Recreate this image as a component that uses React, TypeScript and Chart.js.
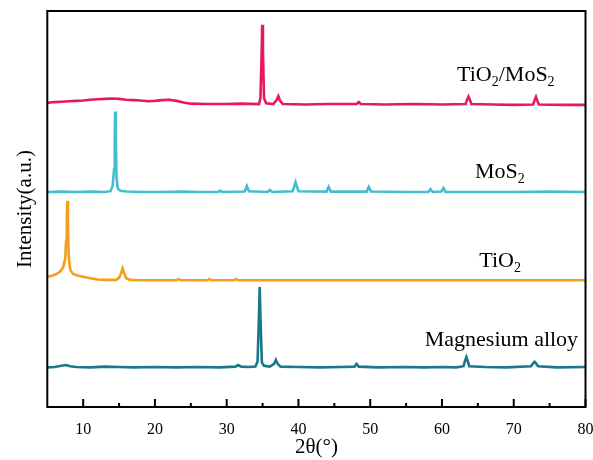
import React, { useEffect, useRef } from 'react';
import { Chart, registerables } from 'chart.js';

Chart.register(...registerables);

// ---- tick values ----
const xMajorTicks = [10, 20, 30, 40, 50, 60, 70, 80];
const xMinorTicks = [15, 25, 35, 45, 55, 65, 75];

// ---- series (2θ, stacked intensity in arbitrary units) ----
const magnesiumAlloy: [number, number][] = [
  [5, 10.0], [6, 10.1], [7, 10.4], [7.6, 10.6], [8.2, 10.3], [9, 10.1], [11, 10.0], [13, 10.2],
  [15, 10.1], [17, 10.0], [20, 10.1], [23, 10.0], [26, 10.1], [29, 10.0], [31.2, 10.2], [31.6, 10.6],
  [32, 10.2], [33, 10.1], [34.0, 10.2], [34.3, 11.5], [34.45, 20], [34.6, 30.3], [34.75, 20],
  [34.9, 11.2], [35.2, 10.4], [36.0, 10.2], [36.6, 10.9], [36.85, 11.9], [37.1, 10.9], [37.5, 10.2],
  [40, 10.1], [43, 10.0], [46, 10.1], [47.8, 10.2], [48.1, 10.9], [48.4, 10.2], [51, 10.0],
  [55, 10.1], [57.5, 10.0], [60, 10.1], [62, 10.0], [63.0, 10.3], [63.2, 11.6], [63.4, 12.6],
  [63.6, 11.6], [63.8, 10.3], [66, 10.1], [69, 10.0], [72.4, 10.3], [72.7, 11.0], [72.9, 11.4],
  [73.1, 11.0], [73.4, 10.3], [76, 10.0], [80, 10.1],
];

const tio2: [number, number][] = [
  [5, 32.9], [5.5, 33.1], [6.2, 33.5], [6.8, 34.2], [7.2, 35.2], [7.5, 37.5], [7.62, 42], [7.72, 48],
  [7.8, 52.1], [7.88, 46], [7.98, 38], [8.2, 34.6], [8.6, 33.6], [9.2, 33.2], [10, 32.9], [11, 32.5],
  [12, 32.2], [13, 32.1], [14.6, 32.1], [15.0, 32.6], [15.3, 33.8], [15.5, 35.0], [15.7, 33.8],
  [16.0, 32.5], [16.5, 32.1], [18, 32.0], [21, 32.0], [23.0, 32.0], [23.3, 32.3], [23.6, 32.0],
  [26, 32.0], [27.3, 32.0], [27.6, 32.3], [27.9, 32.0], [30, 32.0], [31.0, 32.0], [31.3, 32.3],
  [31.6, 32.0], [35, 32.0], [45, 32.0], [55, 32.0], [65, 32.0], [80, 32.0],
];

const mos2: [number, number][] = [
  [5, 54.3], [7, 54.4], [9, 54.3], [11, 54.4], [13, 54.3], [13.8, 54.5], [14.1, 55.8], [14.3, 60],
  [14.4, 68], [14.45, 74.6], [14.55, 68], [14.65, 58], [14.8, 55.2], [15.2, 54.6], [16, 54.4],
  [18, 54.3], [21, 54.3], [24, 54.4], [26, 54.3], [28.8, 54.3], [29.1, 54.6], [29.4, 54.3],
  [32.5, 54.4], [32.8, 55.8], [33.1, 54.5], [35.7, 54.3], [36.0, 54.8], [36.3, 54.3], [39.2, 54.5],
  [39.6, 56.8], [40.0, 54.5], [43.9, 54.4], [44.2, 55.6], [44.5, 54.4], [49.5, 54.4], [49.8, 55.6],
  [50.1, 54.4], [55, 54.3], [58.1, 54.3], [58.4, 55.0], [58.7, 54.3], [59.9, 54.4], [60.2, 55.3],
  [60.5, 54.3], [65, 54.3], [70, 54.3], [75, 54.4], [80, 54.3],
];

const tio2Mos2: [number, number][] = [
  [5, 76.8], [6, 77.0], [7, 77.1], [8, 77.2], [9, 77.3], [10, 77.4], [11, 77.6], [12, 77.7],
  [13, 77.8], [14, 77.9], [15, 77.8], [16, 77.6], [17, 77.5], [18, 77.4], [19, 77.2], [20, 77.3],
  [21, 77.5], [22, 77.6], [23, 77.3], [24, 76.9], [25, 76.6], [27, 76.5], [30, 76.5], [32, 76.6],
  [34.5, 76.5], [34.7, 78], [34.85, 88], [34.95, 96.5], [35.05, 90], [35.2, 78], [35.5, 76.7],
  [36.5, 76.5], [36.95, 77.5], [37.2, 78.5], [37.45, 77.3], [37.8, 76.5], [41, 76.4], [44, 76.5],
  [48.1, 76.5], [48.4, 77.0], [48.7, 76.5], [52, 76.4], [56, 76.5], [60, 76.4], [63.3, 76.5],
  [63.5, 77.6], [63.7, 78.4], [63.9, 77.5], [64.1, 76.5], [67, 76.4], [70, 76.3], [72.7, 76.4],
  [72.9, 77.4], [73.1, 78.3], [73.3, 77.3], [73.5, 76.4], [77, 76.3], [80, 76.3],
];

const seriesNames = ['Magnesium alloy', 'TiO2', 'MoS2', 'TiO2/MoS2'];
const seriesData = [magnesiumAlloy, tio2, mos2, tio2Mos2];
const seriesColors = ['#17798a', '#f59e1c', '#45bdd0', '#e8195b'];

// ---- curve labels (text parts; anchor = left baseline in data units) ----
type Part = { t: string; sub?: boolean };
const labelParts: Part[][] = [
  [{ t: 'Magnesium alloy' }],
  [{ t: 'TiO' }, { t: '2', sub: true }],
  [{ t: 'MoS' }, { t: '2', sub: true }],
  [{ t: 'TiO' }, { t: '2', sub: true }, { t: '/MoS' }, { t: '2', sub: true }],
];
const labelX = [57.6, 65.2, 64.6, 62.1];
const labelY = [15.5, 35.4, 57.8, 82.3];

const FONT = '"Liberation Serif", "Times New Roman", serif';

const overlayPlugin = {
  id: 'overlay',
  afterDatasetsDraw(chart: any) {
    const { ctx, chartArea, scales } = chart;
    const { left, right, top, bottom } = chartArea;
    const x = scales.x;
    const y = scales.y;
    ctx.save();
    ctx.strokeStyle = '#000';
    ctx.lineWidth = 2;
    ctx.strokeRect(left, top, right - left, bottom - top);
    ctx.beginPath();
    xMajorTicks.forEach((v) => {
      const px = x.getPixelForValue(v);
      ctx.moveTo(px, bottom);
      ctx.lineTo(px, bottom - 8);
    });
    xMinorTicks.forEach((v) => {
      const px = x.getPixelForValue(v);
      ctx.moveTo(px, bottom);
      ctx.lineTo(px, bottom - 4);
    });
    ctx.stroke();

    ctx.fillStyle = '#000';
    ctx.textBaseline = 'alphabetic';
    ctx.textAlign = 'left';
    labelParts.forEach((parts, i) => {
      let px = x.getPixelForValue(labelX[i]);
      const py = y.getPixelForValue(labelY[i]);
      parts.forEach((p) => {
        const size = p.sub ? 14 : 22;
        ctx.font = `${size}px ${FONT}`;
        ctx.fillText(p.t, px, py + (p.sub ? 5 : 0));
        px += ctx.measureText(p.t).width;
      });
    });
    ctx.restore();
  },
};

export default function App() {
  const canvasRef = useRef<HTMLCanvasElement | null>(null);

  useEffect(() => {
    if (!canvasRef.current) return;
    const chart = new Chart(canvasRef.current, {
      type: 'line',
      data: {
        datasets: seriesData.map((d, i) => ({
          label: seriesNames[i],
          data: d.map(([x, y]) => ({ x, y })),
          borderColor: seriesColors[i],
          backgroundColor: seriesColors[i],
          borderWidth: 2.6,
          pointRadius: 0,
          tension: 0,
          fill: false,
        })),
      },
      options: {
        animation: false,
        responsive: false,
        events: [],
        layout: { padding: { left: 0, right: 7.5, top: 11, bottom: 0 } },
        plugins: { legend: { display: false }, tooltip: { enabled: false } },
        scales: {
          x: {
            type: 'linear',
            min: 5,
            max: 80,
            grid: { display: false, drawTicks: false },
            border: { display: false },
            afterBuildTicks: (scale: any) => {
              scale.ticks = xMajorTicks.map((v) => ({ value: v }));
            },
            afterFit: (scale: any) => {
              scale.height = 53;
              scale.paddingLeft = 0;
              scale.paddingRight = 0;
            },
            ticks: {
              color: '#000',
              padding: 13,
              maxRotation: 0,
              autoSkip: false,
              font: { family: FONT, size: 16 },
            },
            title: {
              display: true,
              text: '2θ(°)',
              color: '#000',
              padding: { top: 0, bottom: 0 },
              font: { family: FONT, size: 21 },
            },
          },
          y: {
            type: 'linear',
            min: 0,
            max: 100,
            grid: { display: false, drawTicks: false },
            border: { display: false },
            ticks: { display: false },
            afterFit: (scale: any) => {
              scale.width = 47.3;
            },
            title: {
              display: true,
              text: 'Intensity(a.u.)',
              color: '#000',
              padding: { top: 13, bottom: 0 },
              font: { family: FONT, size: 21 },
            },
          },
        },
      },
      plugins: [overlayPlugin],
    });
    return () => chart.destroy();
  }, []);

  return (
    <div style={{ position: 'absolute', left: 0, top: 0, width: 593, height: 460, background: '#fff' }}>
      <canvas ref={canvasRef} width={593} height={460} style={{ display: 'block' }} />
    </div>
  );
}
